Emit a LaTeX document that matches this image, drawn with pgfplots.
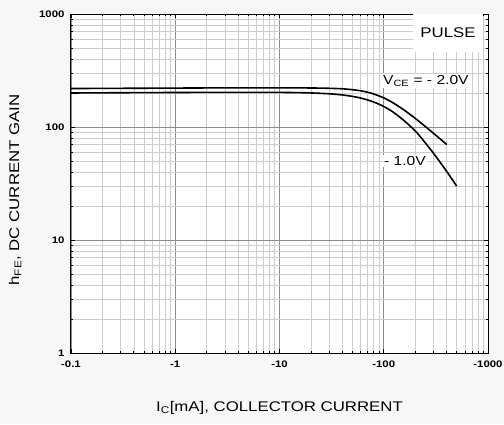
\documentclass[border=0pt]{standalone}
\usepackage{pgfplots}
\pgfplotsset{compat=1.18}
\usepackage{fontspec}
\setmainfont{Liberation Sans}[FakeStretch=1.2]
\definecolor{bgc}{RGB}{247,247,247}
\definecolor{majg}{RGB}{140,140,140}
\definecolor{ming}{RGB}{205,205,205}
\begin{document}
\begin{tikzpicture}
\path[use as bounding box, fill=bgc] (-71pt,-71pt) rectangle (433pt,353pt);
\begin{axis}[
  at={(0pt,0pt)}, anchor=south west,
  scale only axis, width=417pt, height=339pt,
  xmode=log, ymode=log,
  xmin=0.1, xmax=1000, ymin=1, ymax=1000,
  xtick={0.1,1,10,100,1000},
  xticklabels={-0.1,-1,-10,-100,-1000},
  minor xtick={0.2,0.3,0.4,0.5,0.6,0.7,0.8,0.9,2,3,4,5,6,7,8,9,20,30,40,50,60,70,80,90,200,300,400,500,600,700,800,900},
  ytick={1,10,100,1000},
  yticklabels={1,10,100,1000},
  minor ytick={2,3,4,5,6,7,8,9,20,30,40,50,60,70,80,90,200,300,400,500,600,700,800,900},
  axis background/.style={fill=white},
  grid=both,
  major grid style={majg, line width=0.6pt},
  minor grid style={ming, line width=0.5pt},
  tick align=inside,
  major tick length=4pt, minor tick length=2.5pt,
  tick style={black, line width=0.6pt},
  axis line style={black, line width=1pt},
  ticklabel style={font=\bfseries\fontsize{9.5}{10}\selectfont},
  xticklabel style={yshift=-4pt},
  yticklabel style={xshift=-3pt},
  xlabel={I\textsubscript{C}[mA], COLLECTOR CURRENT},
  ylabel={h\textsubscript{FE}, DC CURRENT GAIN},
  label style={font=\fontsize{14}{16}\selectfont},
  xlabel style={at={(axis description cs:0.5,-0.162)}, anchor=center},
  ylabel style={at={(axis description cs:-0.134,0.481)}, anchor=center},
  clip=true,
]
\addplot[black, line width=1.6pt, smooth] coordinates {
(0.1,219) (0.3,220) (1,221) (3,222) (10,222) (20,221.5) (30,220) (40,217.8) (50,214) (60,209.2) (70,203.1) (80,196.1) (100,181) (120,165.7) (140,151.7) (160,139.4) (200,119.4) (250,101.2) (300,87.9) (350,78) (402,70)
};
\addplot[black, line width=1.6pt, smooth] coordinates {
(0.1,200) (0.3,201) (1,202) (3,202.5) (10,202.3) (15,201.4) (20,200.2) (30,196.8) (40,192.2) (50,186.7) (60,180.5) (70,173.7) (85,162.9) (100,152) (120,137.6) (143,122) (170,106.5) (207,89.5) (250,72.5) (299,58.8) (350,48.3) (420,38.1) (500,30)
};
\node[fill=white, minimum width=70pt, minimum height=38pt, inner sep=0pt, font=\fontsize{14}{16}\selectfont] at (rel axis cs:0.904,0.944) {PULSE};
\node[fill=white, inner sep=1.5pt, font=\fontsize{13}{15}\selectfont] at (rel axis cs:0.851,0.802) {V\textsubscript{CE} = - 2.0V};
\node[fill=white, inner sep=1.5pt, font=\fontsize{13}{15}\selectfont] at (rel axis cs:0.801,0.566) {- 1.0V};
\end{axis}
\end{tikzpicture}
\end{document}
